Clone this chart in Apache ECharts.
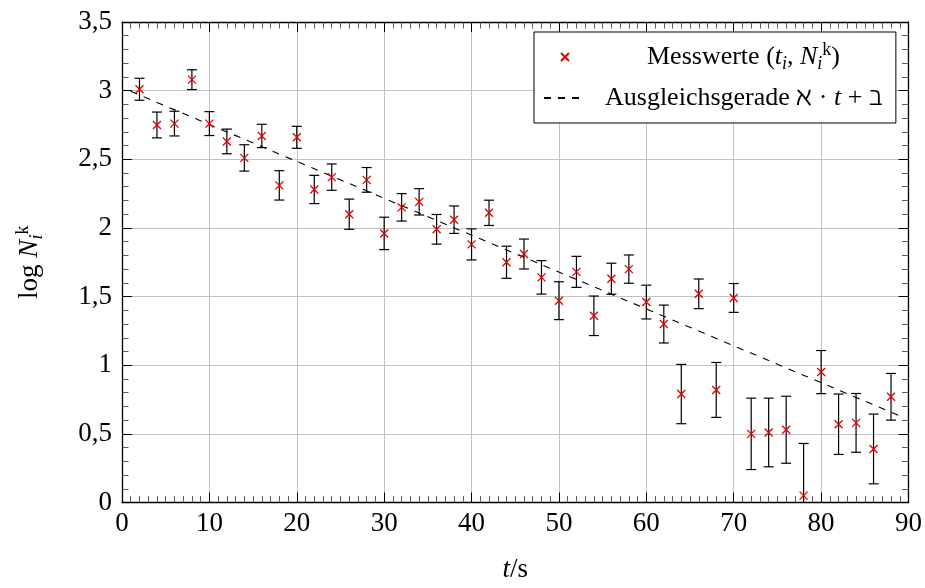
<!DOCTYPE html>
<html>
<head>
<meta charset="utf-8">
<script src="https://cdn.jsdelivr.net/npm/echarts@6/dist/echarts.min.js"></script>
<style>
html,body{margin:0;padding:0;background:#fff;}
#chart{width:925px;height:588px;}
</style>
</head>
<body>
<div id="chart"></div>
<script>
// ---- data ----
var tValues = [2,4,6,8,10,12,14,16,18,20,22,24,26,28,30,32,34,36,38,40,42,44,46,48,50,52,54,56,58,60,62,64,66,68,70,72,74,76,78,80,82,84,86,88];
var logN = [3.01,2.75,2.76,3.08,2.76,2.63,2.51,2.67,2.31,2.66,2.28,2.37,2.10,2.35,1.96,2.15,2.19,1.99,2.06,1.88,2.11,1.75,1.81,1.64,1.47,1.68,1.36,1.63,1.70,1.46,1.30,0.79,1.52,0.82,1.49,0.50,0.51,0.53,0.05,0.95,0.57,0.58,0.39,0.77];
var logNErr = [0.08,0.094,0.09,0.072,0.087,0.09,0.096,0.085,0.107,0.08,0.103,0.096,0.11,0.09,0.118,0.10,0.096,0.108,0.10,0.113,0.092,0.117,0.109,0.122,0.138,0.113,0.144,0.113,0.103,0.123,0.138,0.216,0.108,0.20,0.105,0.26,0.25,0.244,0.38,0.157,0.22,0.214,0.254,0.17];
var fitT = [1, 89];
var fitY = [2.995, 0.631];
var xTicks = {min: 0, max: 90, step: 10};
var yTicks = {min: 0, max: 3.5, step: 0.5};

var FONT = '"Liberation Serif", "DejaVu Serif", serif';
var pts = tValues.map(function(t, i){ return [t, logN[i]]; });
var errPts = tValues.map(function(t, i){ return [t, logN[i], logNErr[i]]; });
var fitPts = fitT.map(function(t, i){ return [t, fitY[i]]; });

var chart = echarts.init(document.getElementById('chart'), null, {renderer: 'canvas'});

function axisCommon(showLabel, minorSplit) {
  return {
    axisLine: {show: true, onZero: false, lineStyle: {color: '#000', width: 1.3}},
    axisTick: {show: true, inside: true, length: 10, lineStyle: {color: '#000', width: 1}},
    minorTick: {show: true, splitNumber: minorSplit, length: 6.5, lineStyle: {color: '#333', width: 0.8}},
    axisLabel: {show: showLabel, color: '#000', fontSize: 27, fontFamily: FONT, margin: 8},
    splitLine: {show: showLabel, lineStyle: {color: '#c2c2c2', width: 1}}
  };
}

function rich(fs, lh) {
  return {
    n: {fontSize: fs, fontFamily: FONT, color: '#000', lineHeight: lh},
    it: {fontStyle: 'italic', fontSize: fs, fontFamily: FONT, color: '#000', lineHeight: lh},
    sub: {fontStyle: 'italic', fontSize: Math.round(fs * 0.68), fontFamily: FONT, color: '#000', verticalAlign: 'bottom', lineHeight: lh},
    sup: {fontSize: Math.round(fs * 0.68), fontFamily: FONT, color: '#000', verticalAlign: 'top', lineHeight: lh},
    sp1: {width: 56, lineHeight: lh},
    sp2: {width: 14, lineHeight: lh}
  };
}

var xa0 = Object.assign(axisCommon(true, 10), {
  type: 'value', position: 'bottom', min: xTicks.min, max: xTicks.max, interval: xTicks.step,
  name: '{it|t}{n|/s}', nameLocation: 'middle', nameGap: 52,
  nameTextStyle: {fontSize: 27, fontFamily: FONT, color: '#000', rich: rich(27, 30)}
});
var xa1 = Object.assign(axisCommon(false, 10), {
  type: 'value', position: 'top', min: xTicks.min, max: xTicks.max, interval: xTicks.step
});
var ya0 = Object.assign(axisCommon(true, 5), {
  type: 'value', position: 'left', min: yTicks.min, max: yTicks.max, interval: yTicks.step,
  name: '{n|log }{it|N}{sub|i}{sup|k}', nameLocation: 'middle', nameGap: 76,
  nameTextStyle: {fontSize: 27, fontFamily: FONT, color: '#000', lineHeight: 32, rich: rich(27, 32)}
});
ya0.axisLabel.margin = 10;
ya0.axisLabel.formatter = function(v){ return String(v).replace('.', ','); };
var ya1 = Object.assign(axisCommon(false, 5), {
  type: 'value', position: 'right', min: yTicks.min, max: yTicks.max, interval: yTicks.step
});

var option = {
  animation: false,
  backgroundColor: '#fff',
  textStyle: {fontFamily: FONT},
  grid: {left: 122, right: 16, top: 22, bottom: 80, containLabel: false},
  xAxis: [xa0, xa1],
  yAxis: [ya0, ya1],
  legend: {
    data: ['Messwerte', 'Ausgleichsgerade'],
    orient: 'vertical', left: 534, top: 32,
    itemWidth: 42, itemHeight: 8, itemGap: 9,
    padding: [9, 13, 9, 9],
    borderColor: '#000', borderWidth: 1, backgroundColor: '#fff', borderRadius: 0,
    align: 'left',
    textStyle: {fontSize: 26, fontFamily: FONT, color: '#000', lineHeight: 32, rich: rich(26, 32)},
    formatter: function(name){
      if (name === 'Messwerte') return '{sp1|}{n|Messwerte (}{it|t}{sub|i}{n|, }{it|N}{sub|i}{sup|k}{n|)}';
      return '{sp2|}{n|Ausgleichsgerade \u2135 \u00b7 }{it|t}{n| + \u2136}';
    }
  },
  series: [
    {
      name: 'Fehler', type: 'custom', xAxisIndex: 0, yAxisIndex: 0, z: 3,
      data: errPts,
      renderItem: function(params, api){
        var t = api.value(0), y = api.value(1), e = api.value(2);
        var lo = y - e, clipped = false;
        if (lo < yTicks.min) { lo = yTicks.min; clipped = true; }
        var top = api.coord([t, y + e]);
        var bot = api.coord([t, lo]);
        var hw = 5;
        var st = {stroke: '#000', lineWidth: 1.2};
        var ch = [
          {type: 'line', shape: {x1: top[0], y1: top[1], x2: bot[0], y2: bot[1]}, style: st},
          {type: 'line', shape: {x1: top[0]-hw, y1: top[1], x2: top[0]+hw, y2: top[1]}, style: st}
        ];
        if (!clipped) ch.push({type: 'line', shape: {x1: bot[0]-hw, y1: bot[1], x2: bot[0]+hw, y2: bot[1]}, style: st});
        return {type: 'group', children: ch};
      }
    },
    {
      name: 'Ausgleichsgerade', type: 'line', xAxisIndex: 0, yAxisIndex: 0, z: 2,
      data: fitPts, showSymbol: false, symbol: 'circle',
      lineStyle: {color: '#000', width: 1.1, type: [7, 7]},
      itemStyle: {color: 'rgba(0,0,0,0)', borderWidth: 0}
    },
    {
      name: 'Messwerte', type: 'scatter', xAxisIndex: 0, yAxisIndex: 0, z: 5,
      data: pts,
      symbol: 'path://M0,0L10,10M10,0L0,10', symbolSize: 8,
      itemStyle: {color: 'rgba(0,0,0,0)', borderColor: '#e00000', borderWidth: 1.3, opacity: 1}
    }
  ]
};
chart.setOption(option);
</script>
</body>
</html>
